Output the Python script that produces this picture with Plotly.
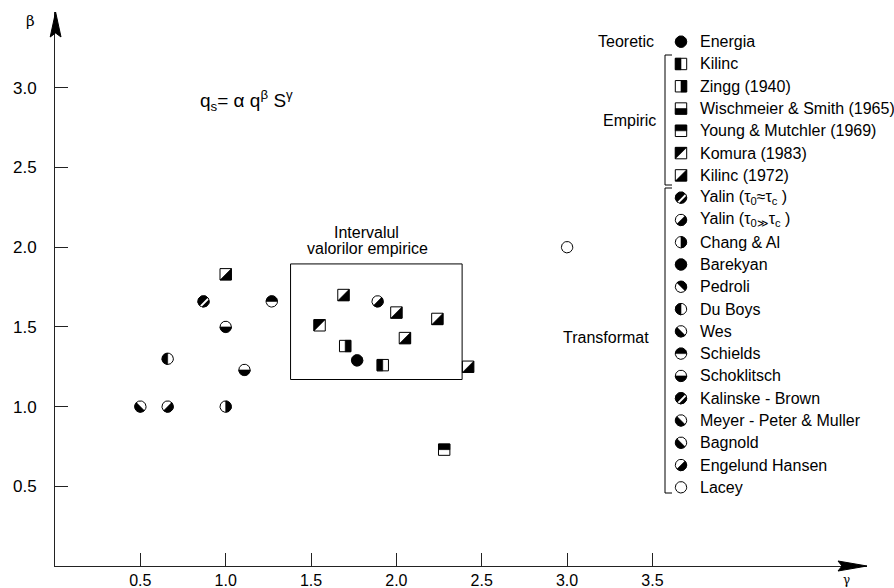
import numpy as np
import plotly.graph_objects as go

# ---------------------------------------------------------------------------
# Data: exponents beta (of q) and gamma (of slope S) for sediment transport
# formulas  q_s = alpha * q^beta * S^gamma
# ---------------------------------------------------------------------------
legend_groups = ["Teoretic", "Empiric", "Transformat"]

legend_methods = [
    "Energia",
    "Kilinc", "Zingg (1940)", "Wischmeier & Smith (1965)", "Young & Mutchler (1969)",
    "Komura (1983)", "Kilinc (1972)",
    "Yalin (t0~tc)", "Yalin (t0>>tc)", "Chang & Al", "Barekyan", "Pedroli", "Du Boys",
    "Wes", "Schields", "Schoklitsch", "Kalinske - Brown", "Meyer - Peter & Muller",
    "Bagnold", "Engelund Hansen", "Lacey",
]
legend_labels = [
    "Energia",
    "Kilinc", "Zingg (1940)", "Wischmeier & Smith (1965)", "Young & Mutchler (1969)",
    "Komura (1983)", "Kilinc (1972)",
    "Yalin (τ<sub>0</sub>≈τ<sub>c</sub> )", "Yalin (τ<sub>0</sub><sub>≫</sub>τ<sub>c</sub> )",
    "Chang & Al", "Barekyan", "Pedroli", "Du Boys",
    "Wes", "Schields", "Schoklitsch", "Kalinske - Brown", "Meyer - Peter & Muller",
    "Bagnold", "Engelund Hansen", "Lacey",
]

point_method = [
    "Bagnold", "Engelund Hansen", "Chang & Al", "Du Boys", "Kalinske - Brown",
    "Schoklitsch", "Schoklitsch", "Schields", "Kilinc (1972)",
    "Kilinc (1972)", "Yalin (t0>>tc)", "Kilinc (1972)", "Kilinc (1972)", "Komura (1983)",
    "Kilinc (1972)", "Zingg (1940)", "Energia", "Kilinc", "Kilinc (1972)",
    "Young & Mutchler (1969)", "Lacey",
]
point_gamma = [
    0.50, 0.66, 1.00, 0.66, 0.87,
    1.00, 1.11, 1.27, 1.00,
    1.69, 1.89, 2.00, 2.24, 1.55,
    2.05, 1.70, 1.77, 1.92, 2.42,
    2.28, 3.00,
]
point_beta = [
    1.00, 1.00, 1.00, 1.30, 1.66,
    1.50, 1.23, 1.66, 1.83,
    1.70, 1.66, 1.59, 1.55, 1.51,
    1.43, 1.38, 1.29, 1.26, 1.25,
    0.73, 2.00,
]

# range of the empirical exponents (framed area)
empiric_gamma = [1.38, 2.385]
empiric_beta = [1.17, 1.895]

x_tick_vals = [0.5, 1.0, 1.5, 2.0, 2.5, 3.0, 3.5]
x_tick_text = ["0.5", "1.0", "1.5", "2.0", "2.5", "3.0", "3.5"]
y_tick_vals = [0.5, 1.0, 1.5, 2.0, 2.5, 3.0]
y_tick_text = ["0.5", "1.0", "1.5", "2.0", "2.5", "3.0"]

# ---------------------------------------------------------------------------
# Glyph styles: (outline shape, which part is inked)
# ---------------------------------------------------------------------------
glyph_style = {
    "Energia": ("circle", "full"),
    "Kilinc": ("square", "left"),
    "Zingg (1940)": ("square", "right"),
    "Wischmeier & Smith (1965)": ("square", "bottom"),
    "Young & Mutchler (1969)": ("square", "top"),
    "Komura (1983)": ("square", "diag_ul"),
    "Kilinc (1972)": ("square", "diag_lr"),
    "Yalin (t0~tc)": ("circle", "stripe"),
    "Yalin (t0>>tc)": ("circle", "diag_lr"),
    "Chang & Al": ("circle", "right"),
    "Barekyan": ("circle", "full"),
    "Pedroli": ("circle", "diag_ur"),
    "Du Boys": ("circle", "left"),
    "Wes": ("circle", "diag_ll"),
    "Schields": ("circle", "top"),
    "Schoklitsch": ("circle", "bottom"),
    "Kalinske - Brown": ("circle", "stripe"),
    "Meyer - Peter & Muller": ("circle", "diag_ll"),
    "Bagnold": ("circle", "diag_ll"),
    "Engelund Hansen": ("circle", "diag_lr"),
    "Lacey": ("circle", "none"),
}

# ---------------------------------------------------------------------------
# Page geometry
# ---------------------------------------------------------------------------
W, H = 894, 588
ML, MR, MT, MB = 55, 27, 12, 22
PW, PH = W - ML - MR, H - MT - MB
X_MAX, Y_MAX = 4.757, 3.4755
SX, SY = PW / X_MAX, PH / Y_MAX          # pixels per unit
FONT = "Liberation Sans, Arial, sans-serif"


def px_x(px):
    return (px - ML) / SX


def px_y(py):
    return (H - MB - py) / SY


def pap_x(px):
    return (px - ML) / PW


def pap_y(py):
    return (H - MB - py) / PH


R_C = 5.7   # circle radius, px
H_S = 5.7   # half side of square, px

ARCS = {
    "full": (0, 360), "left": (90, 270), "right": (-90, 90),
    "top": (0, 180), "bottom": (180, 360),
    "diag_ul": (45, 225), "diag_lr": (225, 405),
    "diag_ur": (-45, 135), "diag_ll": (135, 315),
}
SQ_PARTS = {
    "full": [(-1, -1), (1, -1), (1, 1), (-1, 1)],
    "left": [(-1, -1), (0, -1), (0, 1), (-1, 1)],
    "right": [(0, -1), (1, -1), (1, 1), (0, 1)],
    "top": [(-1, 0), (1, 0), (1, 1), (-1, 1)],
    "bottom": [(-1, -1), (1, -1), (1, 0), (-1, 0)],
    "diag_ul": [(-1, -1), (1, 1), (-1, 1)],
    "diag_lr": [(-1, -1), (1, -1), (1, 1)],
}


def arc(cx, cy, a0, a1, n=40):
    t = np.radians(np.linspace(a0, a1, n))
    return list(cx + R_C * np.cos(t) / SX), list(cy + R_C * np.sin(t) / SY)


def glyph(cx, cy, shape, part):
    """Return (outline, ink polygons, white overlay polygons) in data units."""
    ink, white = [], []
    if shape == "circle":
        outline = arc(cx, cy, 0, 360, 48)
        if part == "stripe":
            ink.append(arc(cx, cy, 0, 360, 48))
            d = np.array([1, 1]) / np.sqrt(2)
            nrm = np.array([1, -1]) / np.sqrt(2)
            pts = []
            for o, s in ((0.4, -1), (0.4, 1), (2.4, 1), (2.4, -1)):
                L = np.sqrt(R_C ** 2 - o ** 2) * 0.92
                pts.append(o * nrm + s * L * d)
            white.append(([cx + p[0] / SX for p in pts], [cy + p[1] / SY for p in pts]))
        elif part in ARCS:
            a0, a1 = ARCS[part]
            ink.append(arc(cx, cy, a0, a1, 40))
    else:
        corners = SQ_PARTS["full"]
        outline = ([cx + u * H_S / SX for u, v in corners],
                   [cy + v * H_S / SY for u, v in corners])
        if part in SQ_PARTS:
            pc = SQ_PARTS[part]
            ink.append(([cx + u * H_S / SX for u, v in pc],
                        [cy + v * H_S / SY for u, v in pc]))
    return outline, ink, white


def join(polys):
    xs, ys = [], []
    for px_, py_ in polys:
        xs += list(px_) + [px_[0], None]
        ys += list(py_) + [py_[0], None]
    return xs, ys


# glyph centres: data points, then the key column
centres = [(g, b, m) for g, b, m in zip(point_gamma, point_beta, point_method)]
KEY_X, KEY_Y0, KEY_DY = 681, 41.7, 22.28
for i, m in enumerate(legend_methods):
    centres.append((px_x(KEY_X), px_y(KEY_Y0 + i * KEY_DY), m))

outlines, inks, whites = [], [], []
for cx, cy, m in centres:
    shape, part = glyph_style[m]
    o, k, w = glyph(cx, cy, shape, part)
    outlines.append(o)
    inks += k
    whites += w

fig = go.Figure()
ox, oy = join(outlines)
fig.add_trace(go.Scatter(x=ox, y=oy, mode="lines", fill="toself", fillcolor="white",
                         line=dict(color="black", width=1), hoverinfo="skip"))
kx, ky = join(inks)
fig.add_trace(go.Scatter(x=kx, y=ky, mode="lines", fill="toself", fillcolor="black",
                         line=dict(color="black", width=0.6), hoverinfo="skip"))
wx, wy = join(whites)
fig.add_trace(go.Scatter(x=wx, y=wy, mode="lines", fill="toself", fillcolor="white",
                         line=dict(color="white", width=0), hoverinfo="skip"))

shapes = []
# frame around the empirical range
shapes.append(dict(type="rect", xref="x", yref="y",
                   x0=empiric_gamma[0], x1=empiric_gamma[1],
                   y0=empiric_beta[0], y1=empiric_beta[1],
                   line=dict(color="black", width=1)))


# arrow heads on both axes
def tri(points):
    p = "M " + " L ".join(f"{pap_x(a):.5f},{pap_y(b):.5f}" for a, b in points) + " Z"
    return dict(type="path", xref="paper", yref="paper", path=p,
                fillcolor="black", line=dict(color="black", width=1))


shapes.append(tri([(55.6, 12), (61.0, 37), (55.6, 33), (50.2, 37)]))
shapes.append(tri([(867, 566), (838, 571), (842, 566), (838, 561)]))


# brackets for the formula groups
def seg(x0, y0, x1, y1):
    return dict(type="line", xref="paper", yref="paper",
                x0=pap_x(x0), y0=pap_y(y0), x1=pap_x(x1), y1=pap_y(y1),
                line=dict(color="black", width=1))


for top, bot in ((55, 185), (188, 493)):
    shapes.append(seg(665, top, 665, bot))
    shapes.append(seg(665, top, 672, top))
    shapes.append(seg(665, bot, 672, bot))

annotations = []


def label(text, px, py, size=15, anchor="left", family=FONT):
    annotations.append(dict(text=text, x=pap_x(px), y=pap_y(py), xref="paper", yref="paper",
                            xanchor=anchor, yanchor="middle", showarrow=False,
                            font=dict(family=family, size=size, color="black")))


for i, t in enumerate(legend_labels):
    label(t, 698, KEY_Y0 + i * KEY_DY, size=16)

label(legend_groups[0], 656, 41.7, size=16, anchor="right")
label(legend_groups[1], 658, 120, size=16, anchor="right")
label(legend_groups[2], 651, 337, size=16, anchor="right")

label("q<sub>s</sub>= α q<sup>β</sup> S<sup>γ</sup>", 198, 100, size=19)
label("Intervalul", 366, 232, size=16, anchor="center")
label("valorilor empirice", 367, 249, size=16, anchor="center")
label("β", 30, 21, size=15, anchor="center", family="DejaVu Serif, serif")
label("γ", 846, 580, size=12, anchor="center", family="DejaVu Serif, serif")

axis_common = dict(showgrid=False, zeroline=False, showline=True, linecolor="#222",
                   linewidth=1, ticks="inside", ticklen=13, tickwidth=1, tickcolor="#222",
                   automargin=False)

fig.update_layout(
    width=W, height=H,
    margin=dict(l=ML, r=MR, t=MT, b=MB, pad=0, autoexpand=False),
    paper_bgcolor="white", plot_bgcolor="white",
    showlegend=False,
    xaxis=dict(range=[0, X_MAX], tickvals=x_tick_vals, ticktext=x_tick_text,
               ticklabelstandoff=0, tickfont=dict(family=FONT, size=16, color="black"),
               **axis_common),
    yaxis=dict(range=[0, Y_MAX], tickvals=y_tick_vals, ticktext=y_tick_text,
               ticklabelstandoff=14, tickfont=dict(family=FONT, size=17, color="black"),
               **axis_common),
    shapes=shapes,
    annotations=annotations,
)

fig.write_html("out.html")
